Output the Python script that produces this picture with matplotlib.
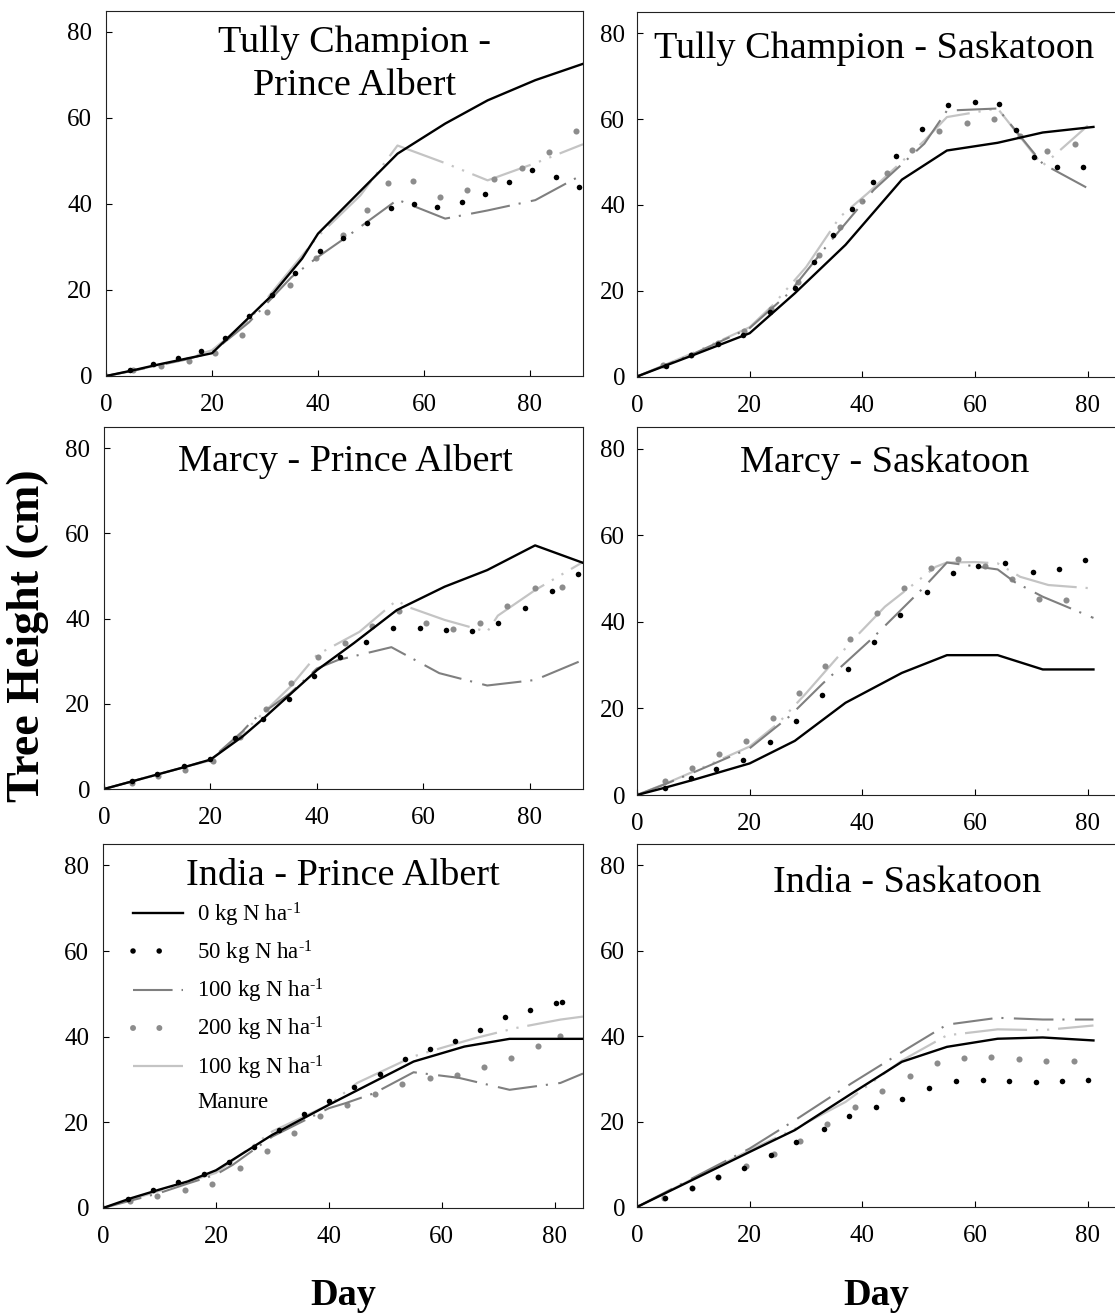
import matplotlib
matplotlib.use("Agg")
import matplotlib.pyplot as plt
from matplotlib.lines import Line2D

plt.rcParams["font.family"] = ["Liberation Serif", "DejaVu Serif"]
plt.rcParams["mathtext.fontset"] = "custom"
plt.rcParams["mathtext.rm"] = "Liberation Serif"
plt.rcParams["mathtext.it"] = "Liberation Serif:italic"
plt.rcParams["mathtext.bf"] = "Liberation Serif:bold"

W, H = 1115, 1314

# ---- Tully Champion - Prince Albert
tcpa_n0_day = [0, 5, 10, 15, 20, 31, 37, 40, 55, 64, 72, 81, 90]
tcpa_n0 = [0, 1.3, 2.7, 4.0, 5.3, 18.4, 27.3, 33.1, 51.7, 58.7, 64.1, 68.8, 72.6]
tcpa_n50_day = [4.5, 8.9, 13.5, 18.0, 22.4, 27.0, 31.4, 35.7, 40.3, 44.8, 49.2, 53.8, 58.2, 62.5, 67.1, 71.6, 76.0, 80.4, 84.9, 89.3]
tcpa_n50 = [1.5, 2.9, 4.3, 5.7, 8.9, 13.9, 18.8, 24.0, 29.1, 32.2, 35.6, 39.1, 39.9, 39.3, 40.4, 42.4, 45.1, 48.0, 46.3, 44.0]
tcpa_n100_day = [0, 5, 10, 15, 20, 27, 35, 40, 45, 55, 64, 72, 81, 90]
tcpa_n100 = [0, 1.2, 2.5, 3.8, 5.5, 12.5, 23, 27.7, 32, 41, 36.6, 38.5, 40.9, 46.9]
tcpa_n200_day = [0, 5.1, 10.4, 15.6, 20.5, 25.7, 30.4, 34.8, 39.6, 44.8, 49.2, 53.3, 58.0, 63.0, 68.2, 73.2, 78.4, 83.6, 88.7]
tcpa_n200 = [0, 1.3, 2.3, 3.6, 5.3, 9.6, 14.9, 21.2, 27.4, 32.7, 38.5, 44.9, 45.3, 41.6, 43.2, 45.7, 48.4, 52.1, 56.9]
tcpa_man_day = [0, 5, 10, 15, 20, 27, 35, 40, 48, 55, 64, 72, 81, 90]
tcpa_man = [0, 1.2, 2.6, 4, 6, 13, 25, 32.5, 42, 53.6, 49.5, 45.5, 49.5, 53.9]

# ---- Tully Champion - Saskatoon
tcs_n0_day = [0, 10, 20, 28, 37, 47, 55, 64, 72, 81]
tcs_n0 = [0, 5, 10.1, 19.4, 30.7, 45.9, 52.7, 54.5, 56.9, 58.2]
tcs_n50_day = [0, 5.2, 9.6, 14.4, 18.8, 23.6, 28.1, 31.4, 34.8, 38.2, 41.9, 45.9, 50.5, 55.1, 59.9, 64.3, 67.3, 70.5, 74.6, 79.2]
tcs_n50 = [0, 2.5, 5, 7.6, 9.7, 15, 20.6, 26.6, 32.9, 39.1, 45.3, 51.5, 57.6, 63.2, 64.0, 63.6, 57.4, 51.2, 48.8, 48.8]
tcs_n100_day = [0, 10, 20, 27, 34, 42, 51, 55, 64, 72, 80]
tcs_n100 = [0, 5.3, 11.3, 19.5, 31, 43.5, 54.3, 62, 62.5, 49.6, 43.9]
tcs_n200_day = [0, 4.6, 9.6, 14.4, 18.9, 23.8, 28.6, 32.3, 36.0, 40.0, 44.4, 48.8, 53.6, 58.5, 63.3, 67.9, 72.8, 77.7]
tcs_n200 = [0, 2.6, 5.1, 7.8, 10.5, 15.7, 22.0, 28.4, 34.8, 41.0, 47.4, 52.9, 57.2, 59.0, 60.1, 56.0, 52.6, 54.3]
tcs_man_day = [0, 10, 20, 24, 30, 36, 41, 51, 55, 64, 72, 80]
tcs_man = [0, 5.5, 11.5, 16.5, 25.5, 37.2, 42.8, 55, 60.5, 62.5, 49.2, 58.5]

# ---- Marcy - Prince Albert
mpa_n0_day = [0, 5, 10, 15, 20, 26, 30, 40, 47, 55, 64, 72, 81, 90]
mpa_n0 = [0, 1.7, 3.4, 5.1, 6.9, 12.3, 16.6, 27.9, 34.3, 42, 47.5, 51.4, 57.2, 53.1]
mpa_n50_day = [5.2, 10, 15, 20, 24.7, 29.8, 34.8, 39.4, 44.4, 49.3, 54.3, 59.3, 64.3, 69.1, 74.1, 79.1, 84.1, 89.1]
mpa_n50 = [1.8, 3.6, 5.3, 7.0, 11.9, 16.5, 21.1, 26.5, 30.9, 34.6, 37.9, 37.7, 37.3, 37.1, 38.9, 42.5, 46.5, 50.4]
mpa_n100_day = [0, 5, 10, 15, 20, 26, 28, 35, 40, 44, 54, 63, 72, 81, 90]
mpa_n100 = [0, 1.7, 3.4, 5.1, 6.9, 13.5, 16.2, 22.5, 28.3, 30.3, 33.3, 27.2, 24.3, 25.6, 30.3]
mpa_n200_day = [0, 5.2, 10.2, 15.3, 20.4, 25.5, 30.5, 35.2, 40.2, 45.3, 50.4, 55.5, 60.5, 65.6, 70.7, 75.8, 80.9, 86.0]
mpa_n200 = [0, 1.4, 3.0, 4.5, 6.5, 12.3, 18.7, 24.8, 30.9, 34.2, 38.3, 41.8, 38.9, 37.5, 38.9, 42.9, 47.2, 47.4]
mpa_man_day = [0, 5, 10, 15, 20, 26, 35, 40, 48, 55, 57, 64, 72, 74, 81, 90]
mpa_man = [0, 1.7, 3.4, 5.1, 6.7, 13.1, 24, 31.5, 36.9, 44.3, 42.8, 39.7, 36.9, 40.7, 46.7, 53.3]

# ---- Marcy - Saskatoon
ms_n0_day = [0, 5, 10, 15, 20, 28, 37, 47, 55, 64, 72, 81]
ms_n0 = [0, 1.7, 3.5, 5.4, 7.3, 12.5, 21.3, 28.2, 32.3, 32.3, 29, 29]
ms_n50_day = [4.9, 9.5, 14.1, 18.8, 23.6, 28.2, 32.8, 37.5, 42.1, 46.7, 51.4, 56, 60.6, 65.3, 70.2, 74.8, 79.5]
ms_n50 = [1.7, 4, 6.1, 8.1, 12.2, 17.1, 23.2, 29.2, 35.4, 41.5, 46.8, 51.2, 53.0, 53.5, 51.6, 52.2, 54.2]
ms_n100_day = [0, 5, 10, 15, 20, 27, 33, 42, 51, 55, 64, 67, 72, 81]
ms_n100 = [0, 2.5, 5.2, 8, 10.8, 18.1, 25.8, 36.5, 48.1, 53.7, 52.1, 49.2, 45.8, 40.9]
ms_n200_day = [0, 4.9, 9.8, 14.5, 19.3, 24.1, 28.8, 33.3, 37.8, 42.5, 47.3, 52.1, 56.9, 61.8, 66.6, 71.4, 76.2]
ms_n200 = [0, 3.2, 6.2, 9.4, 12.5, 17.8, 23.5, 29.8, 36.0, 42.1, 47.9, 52.5, 54.4, 52.8, 49.8, 45.2, 45.0]
ms_man_day = [0, 5, 10, 15, 20, 25, 30, 38, 44, 53, 55, 60, 64, 68, 73, 81]
ms_man = [0, 2.6, 5.4, 8.3, 11.2, 16.5, 23.5, 35.4, 43.5, 52.7, 53.7, 53.8, 53.5, 50.4, 48.5, 47.7]

# ---- India - Prince Albert
ipa_n0_day = [0, 5, 10, 15, 20, 30, 40, 55, 64, 72, 85]
ipa_n0 = [0, 2.3, 4.3, 6.2, 8.8, 17.1, 24.1, 34.2, 37.7, 39.5, 39.5]
ipa_n50_day = [4.4, 8.9, 13.3, 17.8, 22.3, 26.7, 31.1, 35.6, 40, 44.4, 49, 53.5, 57.9, 62.3, 66.7, 71.2, 75.6, 80.2, 81.2]
ipa_n50 = [2.2, 4.1, 6.0, 8.0, 10.7, 14.2, 18.1, 21.9, 25.1, 28.2, 31.4, 34.8, 37.2, 38.9, 41.6, 44.5, 46.3, 47.8, 48.0]
ipa_n100_day = [0, 10, 15, 20, 23, 30, 40, 43, 48, 55, 63, 72, 81, 85]
ipa_n100 = [0, 3.5, 5.7, 7.8, 10.1, 16.7, 23.3, 24.5, 26.8, 31.7, 30.4, 27.6, 29.2, 31.4]
ipa_n200_day = [0, 4.8, 9.6, 14.5, 19.3, 24.2, 29.1, 33.8, 38.5, 43.2, 48.1, 53, 57.9, 62.6, 67.5, 72.3, 77.1, 80.9]
ipa_n200 = [0, 1.6, 2.9, 4.3, 5.6, 9.3, 13.4, 17.5, 21.4, 24.1, 26.7, 28.9, 30.4, 31.1, 32.9, 35, 37.9, 40.1]
ipa_man_day = [0, 10, 20, 30, 40, 45, 55, 60, 66, 73, 81, 85]
ipa_man = [0, 4, 8.2, 17.9, 24.1, 29.2, 35.4, 37.4, 39.7, 42, 44, 44.7]

# ---- India - Saskatoon
is_n0_day = [0, 20, 28, 38, 47, 55, 64, 72, 81]
is_n0 = [0, 12.9, 18, 26.5, 34, 37.5, 39.4, 39.7, 39]
is_n50_day = [4.9, 9.7, 14.4, 18.9, 23.7, 28.3, 33.1, 37.7, 42.4, 47.1, 51.9, 56.6, 61.4, 66, 70.8, 75.4, 80.1]
is_n50 = [2.1, 4.5, 7.0, 9.2, 12.1, 15.2, 18.3, 21.2, 23.3, 25.4, 27.9, 29.4, 29.7, 29.5, 29.2, 29.4, 29.8]
is_n100_day = [0, 20, 28, 38, 48, 55, 64, 72, 81]
is_n100 = [0, 13.7, 20.3, 28.9, 37.1, 42.7, 44.3, 43.9, 43.9]
is_n200_day = [0, 4.8, 9.7, 14.4, 19.3, 24.3, 29, 33.8, 38.7, 43.5, 48.4, 53.2, 58.1, 62.9, 67.7, 72.6, 77.5]
is_n200 = [0, 2.1, 4.5, 7.0, 9.5, 12.3, 15.5, 19.4, 23.3, 27.2, 30.7, 33.7, 34.9, 35.1, 34.7, 34.1, 34.2]
is_man_day = [0, 20, 28, 37, 47, 55, 64, 72, 81]
is_man = [0, 13.3, 18.3, 24.6, 34.3, 40.2, 41.6, 41.4, 42.5]

legend_labels = ["0 kg N ha$^{\\text{-1}}$", "50 kg N ha$^{\\text{-1}}$",
                 "100 kg N ha$^{\\text{-1}}$", "200 kg N ha$^{\\text{-1}}$",
                 "100 kg N ha$^{\\text{-1}}$", "Manure"]

# styles
GREY_DASH = "#7f7f7f"
GREY_DOT = "#8c8c8c"
LIGHT = "#c4c4c4"
st_n0 = dict(color="black", lw=1.7)
st_n50 = dict(color="black", ls="none", marker="o", ms=4.0, mew=0)
st_n100 = dict(color=GREY_DASH, lw=1.5, dashes=(19, 4.3, 1, 5))
st_n200 = dict(color=GREY_DOT, ls="none", marker="o", ms=4.4, mew=0)
st_man = dict(color=LIGHT, lw=1.6, dashes=(28, 4, 1, 4, 1, 4))

fig = plt.figure(figsize=(W / 100, H / 100), dpi=100)


def px_axes(left, top, right, bottom):
    return fig.add_axes([left / W, 1 - bottom / H, (right - left) / W, (bottom - top) / H])


panels = [
    (["Tully Champion -", "Prince Albert"], [0.886, 0.769], 0.522, (106, 10.5, 583, 376), 90, 10,
     (tcpa_n0_day, tcpa_n0), (tcpa_n50_day, tcpa_n50), (tcpa_n100_day, tcpa_n100),
     (tcpa_n200_day, tcpa_n200), (tcpa_man_day, tcpa_man)),
    (["Tully Champion - Saskatoon"], [0.874], 0.496, (637, 12, 1116, 376.5), 85, 8.5,
     (tcs_n0_day, tcs_n0), (tcs_n50_day, tcs_n50), (tcs_n100_day, tcs_n100),
     (tcs_n200_day, tcs_n200), (tcs_man_day, tcs_man)),
    (["Marcy - Prince Albert"], [0.879], 0.505, (104, 427, 583, 789), 90, 10,
     (mpa_n0_day, mpa_n0), (mpa_n50_day, mpa_n50), (mpa_n100_day, mpa_n100),
     (mpa_n200_day, mpa_n200), (mpa_man_day, mpa_man)),
    (["Marcy - Saskatoon"], [0.879], 0.517, (637, 427, 1116, 795), 85, 8.5,
     (ms_n0_day, ms_n0), (ms_n50_day, ms_n50), (ms_n100_day, ms_n100),
     (ms_n200_day, ms_n200), (ms_man_day, ms_man)),
    (["India - Prince Albert"], [0.887], 0.5, (103, 844, 583, 1208), 85, 10,
     (ipa_n0_day, ipa_n0), (ipa_n50_day, ipa_n50), (ipa_n100_day, ipa_n100),
     (ipa_n200_day, ipa_n200), (ipa_man_day, ipa_man)),
    (["India - Saskatoon"], [0.869], 0.563, (637, 844, 1116, 1207), 85, 8.5,
     (is_n0_day, is_n0), (is_n50_day, is_n50), (is_n100_day, is_n100),
     (is_n200_day, is_n200), (is_man_day, is_man)),
]

axes = []
for title, ty, tx, box, xmax, ypad, n0, n50, n100, n200, man in panels:
    ax = px_axes(*box)
    axes.append(ax)
    ax.plot(*man, **st_man)
    ax.plot(*n200, **st_n200)
    ax.plot(*n100, **st_n100)
    ax.plot(*n50, **st_n50)
    ax.plot(*n0, **st_n0)
    ax.set_xlim(0, xmax)
    ax.set_ylim(0, 85)
    ax.set_xticks([0, 20, 40, 60, 80])
    ax.set_yticks([0, 20, 40, 60, 80])
    ax.tick_params(direction="in", length=4, width=0.8, labelsize=18, colors="black")
    ax.tick_params(axis="x", pad=13)
    ax.tick_params(axis="y", pad=ypad)
    for sp in ax.spines.values():
        sp.set_linewidth(0.8)
        sp.set_color("#222222")
    for line, y in zip(title, ty):
        ax.text(tx, y, line, transform=ax.transAxes, ha="center", va="baseline", fontsize=27.5)

# legend in India - Prince Albert
handles = [
    Line2D([], [], **st_n0),
    Line2D([], [], color="black", lw=4, ls=(0, (0.01, 4.7)), dash_capstyle="round"),
    Line2D([], [], **st_n100),
    Line2D([], [], color=GREY_DOT, lw=4.3, ls=(0, (0.01, 4.4)), dash_capstyle="round"),
    Line2D([], [], **st_man),
    Line2D([], [], ls="none"),
]
axes[4].legend(handles, legend_labels, loc="upper left", bbox_to_anchor=(0.0625, 0.845),
               frameon=False, borderpad=0, borderaxespad=0, fontsize=16.5,
               handlelength=2.2, handletextpad=0.6, labelspacing=0.44)

fig.text(343 / W, 1 - 1305 / H, "Day", ha="center", va="baseline", fontsize=27.5, fontweight="bold")
fig.text(876 / W, 1 - 1305 / H, "Day", ha="center", va="baseline", fontsize=27.5, fontweight="bold")
fig.text(28 / W, 1 - 636 / H, "Tree Height (cm)", rotation=90, ha="center", va="center",
         fontsize=33, fontweight="bold")

fig.savefig("out.png", dpi=100)
